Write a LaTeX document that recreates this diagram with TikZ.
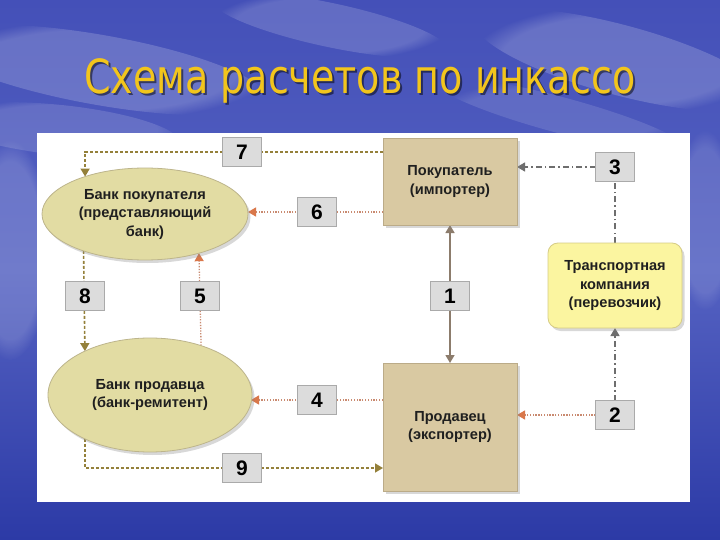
\documentclass[tikz,border=0pt]{standalone}
\usepackage{fontspec}
\setmainfont{Liberation Sans}
\newfontfamily\titlefont{DejaVu Sans}
\usetikzlibrary{arrows.meta,shapes.geometric,shadows,fadings,calc}
\definecolor{skyTop}{HTML}{4450B8}
\definecolor{skyMid}{HTML}{5562C2}
\definecolor{skyBot}{HTML}{2C3AA6}
\definecolor{titleY}{HTML}{F2C51C}
\definecolor{ellF}{HTML}{E2DCA3}
\definecolor{ellB}{HTML}{BDB58C}
\definecolor{boxF}{HTML}{D9C9A2}
\definecolor{boxB}{HTML}{BBAB88}
\definecolor{trF}{HTML}{FBF5A0}
\definecolor{trB}{HTML}{D6CC86}
\definecolor{lblF}{HTML}{DCDCDC}
\definecolor{lblB}{HTML}{AAAAAA}
\definecolor{olive}{HTML}{94803A}
\definecolor{salmon}{HTML}{C98A70}
\definecolor{salmonT}{HTML}{D9774A}
\definecolor{grayL}{HTML}{6E6E6E}
\definecolor{solidL}{HTML}{8C7C6C}
\pgfdeclarelayer{back}\pgfdeclarelayer{mid}\pgfsetlayers{back,mid,main}
\begin{document}
\begin{tikzpicture}[x=1pt,y=-1pt,
  txt/.style={text=black!88, font=\fontsize{14.6}{18.5}\selectfont\bfseries, align=center},
  shad/.style={drop shadow={opacity=0.3, shadow xshift=2.5pt, shadow yshift=-3pt}},
  ell/.style={ellipse, draw=ellB, fill=ellF, line width=0.8pt, inner sep=0pt, outer sep=0pt, txt, shad},
  boxn/.style={rectangle, draw=boxB, fill=boxF, line width=0.8pt, inner sep=0pt, outer sep=0pt, txt, shad},
  trn/.style={rectangle, rounded corners=10pt, draw=trB, fill=trF, line width=0.8pt, inner sep=0pt, outer sep=0pt, txt, shad},
  lbl/.style={rectangle, draw=lblB, fill=lblF, line width=0.6pt, minimum width=39pt, minimum height=29pt, inner sep=0pt, outer sep=0pt, font=\fontsize{21}{21}\selectfont\bfseries},
  tip/.style={Triangle[length=8pt,width=9pt]},
  oliveline/.style={draw=olive, line width=1.6pt, dash pattern=on 3pt off 2pt, -{Triangle[length=8pt,width=9pt]}},
  salmonline/.style={draw=salmon, line width=1.3pt, dash pattern=on 1.3pt off 1.5pt, -{Triangle[length=8pt,width=9pt,color=salmonT]}},
  grayline/.style={draw=grayL, line width=1.3pt, dash pattern=on 6pt off 3pt on 1.5pt off 3pt, -{Triangle[length=8pt,width=9pt]}},
  solidline/.style={draw=solidL, line width=1.4pt, {Triangle[length=8pt,width=9pt]}-{Triangle[length=8pt,width=9pt]}},
  cloud/.style={fill=white, opacity=#1, path fading=circle with fuzzy edge 20 percent}
]
\useasboundingbox (0,0) rectangle (720,540);
\begin{pgfonlayer}{back}
  \shade[top color=skyTop, bottom color=skyBot, middle color=skyMid] (0,0) rectangle (720,540);
  \fill[cloud=0.18, rotate around={-10:(100,70)}] (100,70) ellipse [x radius=170, y radius=35];
  \fill[cloud=0.14, rotate around={-6:(60,130)}] (60,130) ellipse [x radius=120, y radius=25];
  \fill[cloud=0.16, rotate around={-12:(330,25)}] (330,25) ellipse [x radius=120, y radius=22];
  \fill[cloud=0.18, rotate around={-15:(620,60)}] (620,60) ellipse [x radius=150, y radius=35];
  \fill[cloud=0.12, rotate around={-15:(560,115)}] (560,115) ellipse [x radius=130, y radius=18];
  \fill[cloud=0.16] (10,250) ellipse [x radius=40, y radius=110];
  \fill[cloud=0.12] (705,220) ellipse [x radius=30, y radius=90];
  \fill[white] (37,133) rectangle (690,502);
\end{pgfonlayer}

% title
\node[text=black, opacity=0.5] (titleshadow) at (362,83) {\resizebox{552pt}{\height}{\titlefont\fontsize{47}{47}\selectfont Схема расчетов по инкассо}};
\node[text=titleY] (title) at (360,81) {\resizebox{552pt}{\height}{\titlefont\fontsize{47}{47}\selectfont Схема расчетов по инкассо}};

% main nodes
\node[ell, minimum width=206pt, minimum height=92pt] (bb) at (145,214) {Банк покупателя\\(представляющий\\банк)};
\node[ell, minimum width=204pt, minimum height=114pt] (sb) at (150,395) {Банк продавца\\(банк-ремитент)};
\node[boxn, minimum width=134pt, minimum height=87pt] (buyer) at (450,181.5) {Покупатель\\(импортер)};
\node[boxn, minimum width=134pt, minimum height=128pt] (seller) at (450,427) {Продавец\\(экспортер)};
\node[trn, minimum width=134pt, minimum height=85pt] (tr) at (615,285.5) {Транспортная\\компания\\(перевозчик)};

% number labels
\node[lbl] (l7) at (242,152) {7};
\node[lbl] (l6) at (317,212) {6};
\node[lbl] (l3) at (615,167) {3};
\node[lbl] (l8) at (85,296) {8};
\node[lbl] (l5) at (200,296) {5};
\node[lbl] (l1) at (450,296) {1};
\node[lbl] (l4) at (317,400) {4};
\node[lbl] (l9) at (242,468) {9};
\node[lbl] (l2) at (615,415) {2};

\begin{pgfonlayer}{mid}
  % 7
  \draw[oliveline] (buyer.west |- l7) -| (bb.148.1);
  % 6
  \draw[salmonline] (buyer.west |- l6) -- (bb.east |- l6);
  % 3
  \draw[grayline, -] (tr.north) -- (l3.south);
  \draw[grayline] (l3.west) -- (buyer.east |- l3);
  % 8
  \draw[oliveline] (bb.211.9) -- (sb.146);
  % 5
  \draw[salmonline] (sb.44.8) -- (bb.324.7);
  % 1
  \draw[solidline] (buyer.south) -- (seller.north);
  % 4
  \draw[salmonline] (seller.west |- l4) -- ($(sb.east |- l4)+(-1,0)$);
  % 9
  \draw[oliveline] (sb.214) |- (seller.west |- l9);
  % 2
  \draw[salmonline] (l2.west) -- (seller.east |- l2);
  \draw[grayline] (l2.north) -- (tr.south);
\end{pgfonlayer}
\end{tikzpicture}
\end{document}
